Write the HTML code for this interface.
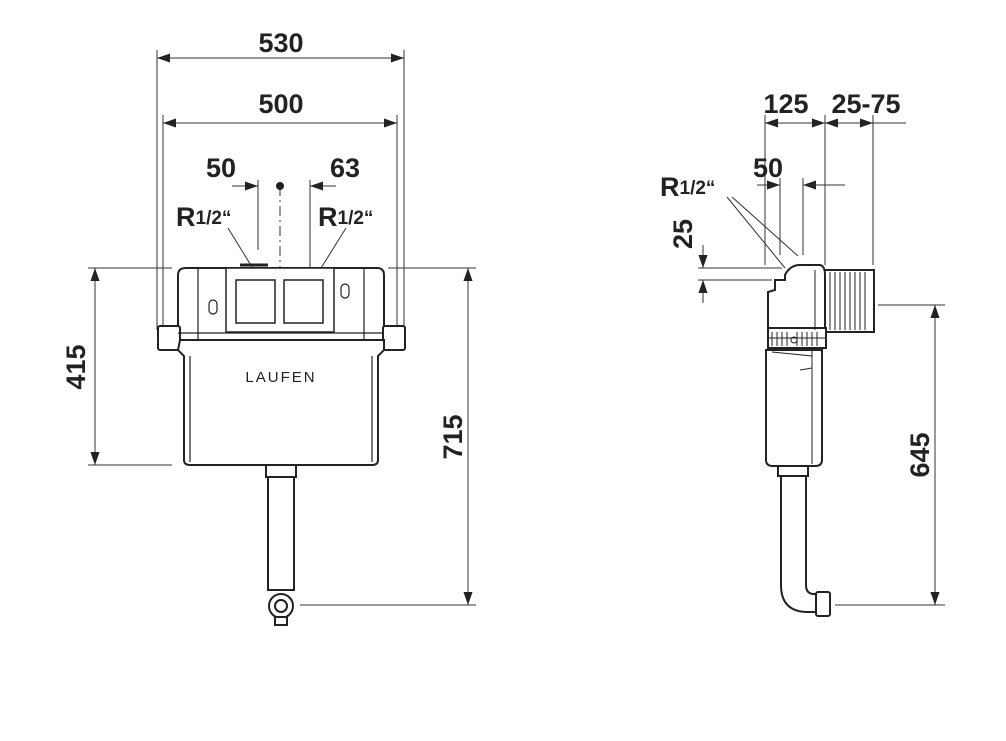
<!DOCTYPE html>
<html><head><style>
html,body{margin:0;padding:0;background:#fff;}
svg{display:block;}
text{font-family:"Liberation Sans Narrow","Liberation Sans",sans-serif;font-weight:bold;fill:#222;}
</style></head><body>
<svg width="1006" height="741" viewBox="0 0 1006 741" xmlns="http://www.w3.org/2000/svg">
<defs>
<marker id="a" viewBox="0 0 10 10" refX="10" refY="5" markerWidth="13" markerHeight="13" markerUnits="userSpaceOnUse" orient="auto-start-reverse"><path d="M0,1.5 L10,5 L0,8.5 z" fill="#222"/></marker>
</defs>
<g stroke="#333" stroke-width="1" fill="none">
<line x1="157" y1="50" x2="157" y2="330"/><line x1="404" y1="50" x2="404" y2="330"/>
<line x1="163" y1="115" x2="163" y2="325"/><line x1="397" y1="115" x2="397" y2="325"/>
<line x1="157" y1="58" x2="404" y2="58" marker-start="url(#a)" marker-end="url(#a)"/>
<line x1="163" y1="123" x2="397" y2="123" marker-start="url(#a)" marker-end="url(#a)"/>
<line x1="258" y1="180" x2="258" y2="250"/><line x1="310" y1="180" x2="310" y2="285"/>
<line x1="232" y1="186" x2="258" y2="186" marker-end="url(#a)"/>
<line x1="336" y1="186" x2="310" y2="186" marker-end="url(#a)"/>
<line x1="280" y1="186" x2="280" y2="410" stroke-dasharray="10,4,2,4"/>
<line x1="228" y1="228" x2="252" y2="267"/>
<line x1="346" y1="228" x2="313" y2="281"/>
<line x1="88" y1="268" x2="172" y2="268"/><line x1="88" y1="465" x2="172" y2="465"/>
<line x1="95" y1="268" x2="95" y2="465" marker-start="url(#a)" marker-end="url(#a)"/>
<line x1="388" y1="268" x2="476" y2="268"/><line x1="300" y1="605" x2="476" y2="605"/>
<line x1="468" y1="268" x2="468" y2="605" marker-start="url(#a)" marker-end="url(#a)"/>
</g>
<circle cx="280" cy="186" r="4" fill="#222"/>
<g stroke="#222" stroke-width="2" fill="#fff">
<path d="M178,275 Q178,268 186,268 L377,268 Q384,268 384,275 L384,340 L178,340 Z"/>
<rect x="158" y="326" width="22" height="24" rx="2"/>
<rect x="383" y="326" width="22" height="24" rx="2"/>
<path d="M180,340 L384,340 L384,350 L378,356 L378,460 Q378,465 372,465 L190,465 Q184,465 184,460 L184,356 L178,350 Z"/>
<rect x="226" y="268" width="108" height="64" stroke-width="1.5"/>
<rect x="236" y="280" width="39" height="43" stroke-width="1.5"/>
<rect x="284" y="280" width="39" height="43" stroke-width="1.5"/>
<rect x="266" y="465" width="30" height="12"/>
<rect x="268" y="477" width="26" height="113"/>
<circle cx="281" cy="606" r="12"/>
<circle cx="281" cy="606" r="6"/>
<rect x="275" y="617" width="12" height="8"/>
</g>
<g stroke="#222" stroke-width="1.2" fill="none">
<line x1="198" y1="268" x2="198" y2="340"/><line x1="364" y1="268" x2="364" y2="340"/>
<line x1="178" y1="333" x2="384" y2="333"/>
<rect x="209" y="300" width="8" height="14" rx="4"/><rect x="341" y="284" width="8" height="14" rx="4"/>
<line x1="190" y1="356" x2="190" y2="462"/><line x1="372" y1="356" x2="372" y2="462"/>
<line x1="240" y1="265" x2="268" y2="265" stroke-width="3"/>
</g>
<text x="281" y="382" font-size="15" text-anchor="middle" style="font-family:'Liberation Sans',sans-serif;font-weight:normal;letter-spacing:2px">LAUFEN</text>
<g stroke="#333" stroke-width="1" fill="none">
<line x1="765" y1="115" x2="765" y2="265"/><line x1="825" y1="115" x2="825" y2="265"/><line x1="873" y1="115" x2="873" y2="265"/>
<line x1="765" y1="123" x2="825" y2="123" marker-start="url(#a)" marker-end="url(#a)"/>
<line x1="825" y1="123" x2="873" y2="123" marker-start="url(#a)" marker-end="url(#a)"/>
<line x1="873" y1="123" x2="906" y2="123"/>
<line x1="780" y1="178" x2="780" y2="255"/><line x1="803" y1="178" x2="803" y2="255"/>
<line x1="757" y1="185" x2="780" y2="185" marker-end="url(#a)"/>
<line x1="826" y1="185" x2="803" y2="185" marker-end="url(#a)"/>
<line x1="803" y1="185" x2="845" y2="185"/>
<line x1="727" y1="197" x2="785" y2="268"/>
<line x1="732" y1="197" x2="798" y2="256"/>
<line x1="698" y1="268" x2="782" y2="268"/><line x1="698" y1="280" x2="772" y2="280"/>
<line x1="703" y1="245" x2="703" y2="268" marker-end="url(#a)"/>
<line x1="703" y1="303" x2="703" y2="280" marker-end="url(#a)"/>
<line x1="878" y1="305" x2="945" y2="305"/><line x1="835" y1="605" x2="945" y2="605"/>
<line x1="935" y1="305" x2="935" y2="605" marker-start="url(#a)" marker-end="url(#a)"/>
</g>
<g stroke="#222" stroke-width="2" fill="#fff">
<rect x="824" y="270" width="50" height="62"/>
<path d="M785,275 Q790,265 800,265 L820,265 Q825,266 825,275 L825,330 L768,330 L768,292 L775,290 L775,280 L785,280 Z"/>
<rect x="768" y="328" width="58" height="20"/>
<path d="M766,350 L822,350 L822,460 Q822,466 815,466 L773,466 Q766,466 766,460 Z"/>
<rect x="778" y="466" width="30" height="10"/>
<path d="M781,476 L806,476 L806,585 Q806,594 814,594 L818,594 L818,612 L808,612 Q781,612 781,585 Z"/>
<rect x="816" y="592" width="14" height="24" rx="2"/>
</g>
<g stroke="#222" stroke-width="1" fill="none">
<path d="M830,272 V330 M835,272 V330 M840,272 V330 M845,272 V330 M850,272 V330 M855,272 V330 M860,272 V330 M865,272 V330"/>
<path d="M772,332 V346 M777,332 V346 M782,332 V346 M787,332 V346 M797,332 V346 M802,332 V346 M807,332 V346 M812,332 V346 M817,332 V346"/>
<line x1="768" y1="338" x2="826" y2="338"/>
<path d="M772,352 L812,356 L812,368 L800,370"/>
<line x1="812" y1="350" x2="812" y2="464"/>
<line x1="815" y1="270" x2="815" y2="330"/>
<circle cx="794" cy="340" r="3"/>
</g>
<g font-size="27">
<text x="281" y="52" text-anchor="middle">530</text>
<text x="281" y="113" text-anchor="middle">500</text>
<text x="221" y="177" text-anchor="middle">50</text>
<text x="345" y="177" text-anchor="middle">63</text>
<text x="176" y="226">R<tspan font-size="19" dy="-2">1/2“</tspan></text>
<text x="318" y="226">R<tspan font-size="19" dy="-2">1/2“</tspan></text>
<text x="786" y="113" text-anchor="middle">125</text>
<text x="866" y="113" text-anchor="middle">25-75</text>
<text x="768" y="177" text-anchor="middle">50</text>
<text x="660" y="196">R<tspan font-size="19" dy="-2">1/2“</tspan></text>
<text transform="translate(85,367) rotate(-90)" text-anchor="middle">415</text>
<text transform="translate(462,437) rotate(-90)" text-anchor="middle">715</text>
<text transform="translate(692,234) rotate(-90)" text-anchor="middle">25</text>
<text transform="translate(929,455) rotate(-90)" text-anchor="middle">645</text>
</g>
</svg>
</body></html>
